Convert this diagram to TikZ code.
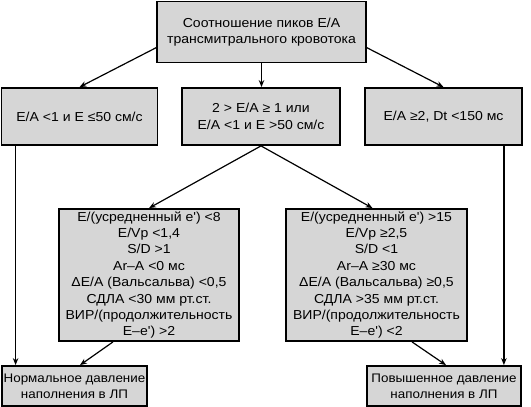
\documentclass[tikz,border=0pt]{standalone}
\usepackage{fontspec}
\setmainfont[FakeStretch=1.08,Ligatures=TeXOff]{Liberation Sans}
\usetikzlibrary{arrows.meta,calc}
\definecolor{boxgray}{RGB}{214,214,214}
\begin{document}
\begin{tikzpicture}[x=1pt,y=-1pt,
  box/.style={draw=black,line width=1.8pt,fill=boxgray,align=center,inner sep=0pt,
    font=\fontsize{13}{16.4}\selectfont},
  endbox/.style={box,font=\fontsize{12.4}{16.4}\selectfont},
  conn/.style={line width=1.2pt,-{Stealth[length=7pt,width=5.5pt]}}]
\useasboundingbox (0,0) rectangle (531,407);
\node[box,minimum width=209pt,minimum height=61pt] (top) at (261.5,32) {Соотношение пиков E/A\\трансмитрального кровотока};
\node[box,minimum width=156pt,minimum height=57pt] (L1) at (79.5,116.5) {E/A <1 и E ≤50 см/с};
\node[box,minimum width=158pt,minimum height=57pt] (M1) at (261,116.5) {2 > E/A ≥ 1 или\\E/A <1 и E >50 см/с};
\node[box,minimum width=157pt,minimum height=57pt] (R1) at (443.5,116.5) {E/A ≥2, Dt <150 мс};
\node[box,minimum width=180pt,minimum height=132pt] (L2) at (149,275) {E/(усредненный e') <8\\E/Vp <1,4\\S/D >1\\Ar–A <0 мс\\ΔE/A (Вальсальва) <0,5\\СДЛА <30 мм рт.ст.\\ВИР/(продолжительность\\E–e') >2};
\node[box,minimum width=181pt,minimum height=132pt] (R2) at (376.5,275) {E/(усредненный e') >15\\E/Vp ≥2,5\\S/D <1\\Ar–A ≥30 мс\\ΔE/A (Вальсальва) ≥0,5\\СДЛА >35 мм рт.ст.\\ВИР/(продолжительность\\E–e') <2};
\node[endbox,minimum width=145pt,minimum height=40pt] (LB) at (74.5,386) {Нормальное давление\\наполнения в ЛП};
\node[endbox,minimum width=154pt,minimum height=40pt] (RB) at (444,386) {Повышенное давление\\наполнения в ЛП};
\draw[conn] ($(top.south west)!0.25!(top.north west)$) -- (L1.north);
\draw[conn] (top.south) -- (top.south |- M1.north);
\draw[conn] ($(top.south east)!0.25!(top.north east)$) -- (R1.north);
\draw[conn] (M1.south) -- (L2.north);
\draw[conn] (M1.south) -- ([xshift=-4pt]R2.north);
\draw[conn] ([xshift=15pt]L1.south west) -- ([xshift=15pt]L1.south west |- LB.north);
\draw[conn] ([xshift=-19pt]R1.south east) -- ([xshift=-19pt]R1.south east |- RB.north);
\draw[conn] ([xshift=-36pt]L2.south) -- ([xshift=5.5pt]LB.north);
\draw[conn] ([xshift=35.5pt]R2.south) -- ([xshift=2pt]RB.north);
\end{tikzpicture}
\end{document}
